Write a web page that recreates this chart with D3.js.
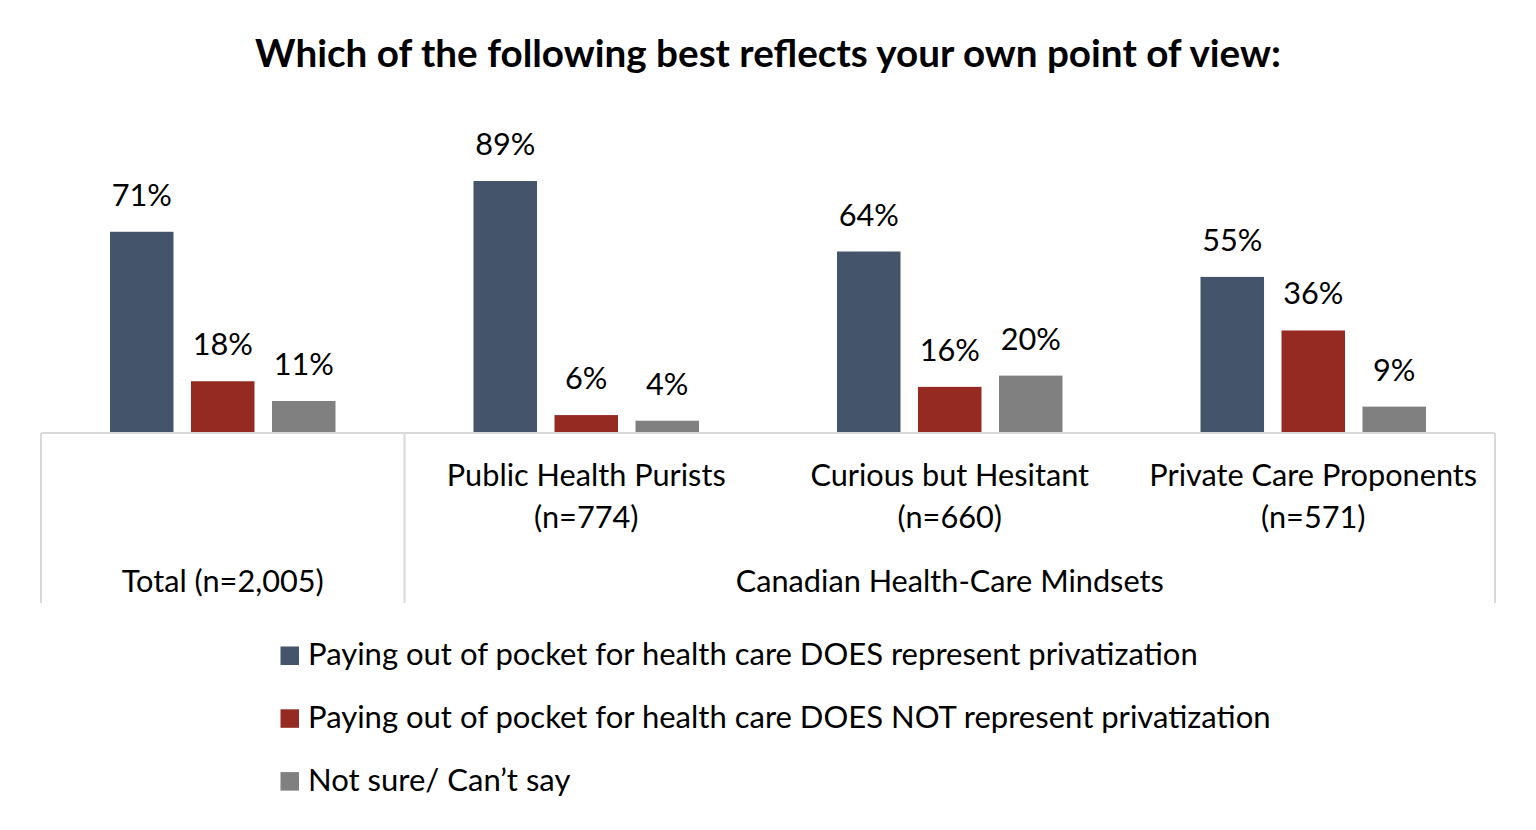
<!DOCTYPE html>
<html>
<head>
<meta charset="utf-8">
<script src="https://cdn.jsdelivr.net/npm/d3@7"></script>
<style>
  html, body { margin: 0; padding: 0; background: #fff; }
  svg { display: block; }
  text { font-family: Lato, "Open Sans", sans-serif; fill: #000; }
</style>
</head>
<body>
<svg id="chart" width="1536" height="830"></svg>
<script>
// ---------- data ----------
const title = "Which of the following best reflects your own point of view:";
const groups = ["Total", "Public Health Purists", "Curious but Hesitant", "Private Care Proponents"];
const groupLabels = [
  ["", ""],
  ["Public Health Purists", "(n=774)"],
  ["Curious but Hesitant", "(n=660)"],
  ["Private Care Proponents", "(n=571)"]
];
const outerLabels = ["Total (n=2,005)", "Canadian Health-Care Mindsets"];
const seriesNames = [
  "Paying out of pocket for health care DOES represent privatization",
  "Paying out of pocket for health care DOES NOT represent privatization",
  "Not sure/ Can\u2019t say"
];
const seriesColors = ["#44546a", "#952a23", "#808080"];
const doesRepresent    = [71, 89, 64, 55];
const doesNotRepresent = [18, 6, 16, 36];
const notSure          = [11, 4, 20, 9];
const seriesValues = [doesRepresent, doesNotRepresent, notSure];

// ---------- layout ----------
const svg = d3.select("#chart");
const left = 41, right = 1495, baseY = 432;

const x0 = d3.scaleBand().domain(groups).range([left, right]).padding(0);
const x1 = d3.scaleBand().domain(d3.range(3)).range([0, x0.bandwidth()])
  .paddingInner(0.216).paddingOuter(0.852);
const y = d3.scaleLinear().domain([0, 100]).range([baseY, baseY - 282]);

// font fitting helper: returns font size giving target width
function fitSize(str, target, weight) {
  const t = svg.append("text").attr("font-size", 100).attr("font-weight", weight || "normal").text(str);
  const w = t.node().getComputedTextLength();
  t.remove();
  return 100 * target / w;
}
const bodySize = fitSize("Public Health Purists", 279);
const titleSize = fitSize(title, 1026, "bold");
const legendSize = fitSize(seriesNames[0], 890);
const valueSize = bodySize;

// title
svg.append("text")
  .attr("x", (255 + 1281) / 2).attr("y", 67)
  .attr("text-anchor", "middle")
  .attr("font-weight", "bold")
  .attr("font-size", titleSize)
  .text(title);

// bars
const data = [];
groups.forEach((g, gi) => seriesValues.forEach((vals, si) => data.push({ g, si, v: vals[gi] })));

const barG = svg.append("g");
barG.selectAll("rect").data(data).join("rect")
  .attr("x", d => x0(d.g) + x1(d.si))
  .attr("y", d => y(d.v))
  .attr("width", x1.bandwidth())
  .attr("height", d => baseY - y(d.v))
  .attr("fill", d => seriesColors[d.si]);

barG.selectAll("text").data(data).join("text")
  .attr("x", d => x0(d.g) + x1(d.si) + x1.bandwidth() / 2)
  .attr("y", d => y(d.v) - 26)
  .attr("text-anchor", "middle")
  .attr("font-size", valueSize)
  .text(d => d.v + "%");

// axis lines
const axisColor = "#d9d9d9";
svg.append("line").attr("x1", left).attr("x2", right).attr("y1", baseY + 1).attr("y2", baseY + 1)
  .attr("stroke", axisColor).attr("stroke-width", 2);
[left, x0(groups[1]), right].forEach(xx => {
  svg.append("line").attr("x1", xx).attr("x2", xx).attr("y1", baseY + 1).attr("y2", 603)
    .attr("stroke", axisColor).attr("stroke-width", 2);
});

// group labels
groups.forEach((g, gi) => {
  const cx = x0(g) + x0.bandwidth() / 2;
  groupLabels[gi].forEach((line, li) => {
    if (!line) return;
    svg.append("text").attr("x", cx).attr("y", 486 + li * 42)
      .attr("text-anchor", "middle").attr("font-size", bodySize).text(line);
  });
});
// outer labels
svg.append("text").attr("x", x0(groups[0]) + x0.bandwidth() / 2).attr("y", 592)
  .attr("text-anchor", "middle").attr("font-size", bodySize).text(outerLabels[0]);
svg.append("text").attr("x", (x0(groups[1]) + right) / 2).attr("y", 592)
  .attr("text-anchor", "middle").attr("font-size", bodySize).text(outerLabels[1]);

// legend
const legend = svg.append("g");
seriesNames.forEach((name, i) => {
  const ly = 665 + i * 62.8;
  legend.append("rect").attr("x", 280.5).attr("y", ly - 18.5).attr("width", 18.5).attr("height", 18.5)
    .attr("fill", seriesColors[i]);
  legend.append("text").attr("x", 308).attr("y", ly).attr("font-size", legendSize).text(name);
});
</script>
</body>
</html>
